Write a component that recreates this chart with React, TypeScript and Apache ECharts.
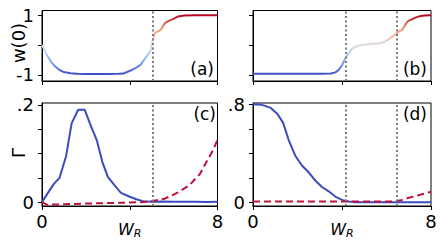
import React, { useEffect, useRef } from "react";
import * as echarts from "echarts";

// Panel (a): w(0) vs W
const xA = [0, 0.2, 0.4, 0.6, 0.8, 1.0, 1.3, 1.6, 2.0, 2.5, 3.0, 3.5, 3.7, 3.9, 4.1, 4.3, 4.5, 4.7, 4.85, 4.95, 5.05, 5.15, 5.25, 5.35, 5.45, 5.55, 5.65, 5.8, 6.0, 6.2, 6.5, 7.0, 7.5, 8.0];
const yA = [0.0, -0.3, -0.55, -0.72, -0.84, -0.91, -0.95, -0.97, -0.975, -0.975, -0.975, -0.97, -0.96, -0.9, -0.84, -0.76, -0.66, -0.45, -0.3, -0.18, 0.2, 0.4, 0.45, 0.47, 0.55, 0.68, 0.76, 0.82, 0.88, 0.96, 0.99, 1.0, 1.0, 1.0];

// Panel (b)
const xB = [0, 1, 2, 3, 3.5, 3.7, 3.85, 4.0, 4.1, 4.2, 4.35, 4.5, 4.7, 4.9, 5.1, 5.3, 5.5, 5.7, 5.9, 6.1, 6.3, 6.5, 6.6, 6.7, 6.8, 6.9, 7.0, 7.1, 7.3, 7.5, 7.7, 8.0];
const yB = [-0.97, -0.97, -0.97, -0.97, -0.96, -0.92, -0.84, -0.68, -0.52, -0.38, -0.22, -0.1, -0.03, 0.0, 0.02, 0.04, 0.04, 0.06, 0.1, 0.2, 0.3, 0.42, 0.48, 0.5, 0.62, 0.75, 0.82, 0.85, 0.92, 0.97, 0.99, 1.0];

// Panel (c)
const xC1 = [0, 0.3, 0.55, 0.8, 1.1, 1.35, 1.65, 1.95, 2.2, 2.5, 2.75, 3.0, 3.3, 3.6, 4.0, 4.3, 4.6, 5.0, 5.5, 6.0, 6.5, 7.0, 7.5, 8.0];
const yC1 = [0, 0.021, 0.038, 0.05, 0.095, 0.162, 0.19, 0.19, 0.16, 0.127, 0.083, 0.052, 0.035, 0.019, 0.011, 0.006, 0.002, 0.001, 0.0015, 0.001, 0.001, 0.0005, 0.0, 0.001];
const xC2 = [0, 0.3, 0.5, 1, 2, 3, 4, 4.6, 5.0, 5.6, 6.2, 6.7, 7.2, 7.5, 7.8, 8.0];
const yC2 = [0, -0.007, -0.005, -0.0045, -0.003, -0.002, -0.001, 0.0, 0.002, 0.007, 0.02, 0.034, 0.058, 0.083, 0.107, 0.128];

// Panel (d)
const xD1 = [0, 0.4, 0.8, 1.1, 1.35, 1.6, 1.9, 2.2, 2.5, 2.8, 3.1, 3.4, 3.7, 4.0, 4.3, 4.6, 5, 6, 7, 8];
const yD1 = [0.8, 0.795, 0.77, 0.72, 0.65, 0.51, 0.38, 0.3, 0.245, 0.178, 0.125, 0.09, 0.047, 0.02, 0.006, 0.001, 0, 0, 0, 0];
const xD2 = [0, 2, 4, 6, 6.4, 6.7, 7.05, 7.3, 7.6, 8.0];
const yD2 = [0.006, 0.006, 0.006, 0.006, 0.007, 0.02, 0.04, 0.05, 0.066, 0.086];

const vLinesA = [5.05];
const vLinesB = [4.18, 6.47];

const xTicks = [0, 4, 8];
const xTickLabels = ["0", "", "8"];
const yTicksTop = [-1, 0, 1];
const yLabelsTop = [-1, 1];
const yTicksC = [0, 0.05, 0.1, 0.15, 0.2];
const yLabelsC = [0, 0.2];
const yTicksD = [0, 0.2, 0.4, 0.6, 0.8];
const yLabelsD = [0, 0.8];

const coolwarm = ["#3b4cc0", "#6282ea", "#8db0fe", "#b8d0f9", "#dddddd", "#f5c4ad", "#f49a7b", "#de604d", "#b40426"];
const BLUE = "#3b4cc0";
const RED = "#c0103a";
const FONT = "DejaVu Sans";

const pairs = (xs: number[], ys: number[]) => xs.map((x, i) => [x, ys[i]]);

export default function App() {
  const ref = useRef<HTMLDivElement>(null);
  useEffect(() => {
    if (!ref.current) return;
    const chart = echarts.init(ref.current, null, { renderer: "svg" });
    const gridBase = { show: true, borderColor: "#000", borderWidth: 1, backgroundColor: "transparent", containLabel: false, outerBoundsMode: "none" };
    const grids = [
      { left: 42, top: 10.5, width: 175.5, height: 70.5 },
      { left: 253, top: 10.5, width: 178, height: 70.5 },
      { left: 42, top: 103, width: 175.5, height: 103 },
      { left: 253, top: 103, width: 178, height: 103 },
    ].map((g) => ({ ...gridBase, ...g }));

    const labelStyle = { fontSize: 18, color: "#000", fontFamily: FONT };
    const xAxes = [0, 1, 2, 3].map((i) => ({
      gridIndex: i,
      type: "value",
      min: 0,
      max: 8,
      interval: 4,
      axisLine: { show: true, onZero: false, lineStyle: { color: "#000", width: 1 } },
      axisTick: { show: true, inside: false, length: 4, lineStyle: { color: "#000", width: 1 } },
      splitLine: { show: false },
      axisLabel: {
        show: i >= 2,
        ...labelStyle,
        margin: 6,
        formatter: (v: number) => xTickLabels[xTicks.indexOf(v)] ?? "",
      },
      name: i >= 2 ? "{w|W}{r|R}" : "",
      nameLocation: "middle",
      nameGap: 14,
      nameMoveOverlap: false,
      nameTextStyle: {
        rich: {
          w: { fontSize: 16, fontStyle: "italic", fontFamily: FONT, color: "#000" },
          r: { fontSize: 11, fontStyle: "italic", fontFamily: FONT, color: "#000", padding: [8, 0, 0, 0] },
        },
      },
    }));

    const yAxisBase = (i: number, min: number, max: number, ticks: number[], labels: number[], showLabels: boolean, fmt: (v: number) => string) => ({
      gridIndex: i,
      type: "value",
      min,
      max,
      axisLine: { show: true, onZero: false, lineStyle: { color: "#000", width: 1 } },
      axisTick: { show: true, inside: false, length: 4, customValues: ticks, lineStyle: { color: "#000", width: 1 } },
      splitLine: { show: false },
      axisLabel: { show: showLabels, customValues: labels, ...labelStyle, margin: 8, formatter: fmt },
    });
    const yAxes = [
      yAxisBase(0, -1.21, 1.16, yTicksTop, yLabelsTop, true, (v) => (v > 0 ? "1" : "-1")),
      yAxisBase(1, -1.21, 1.16, yTicksTop, yLabelsTop, false, (v) => ""),
      yAxisBase(2, -0.008, 0.204, yTicksC, yLabelsC, true, (v) => (v > 0.1 ? ".2" : "0")),
      yAxisBase(3, -0.03, 0.81, yTicksD, yLabelsD, true, (v) => (v > 0.4 ? ".8" : "0")),
    ];

    const markLine = (vals: number[]) => ({
      silent: true,
      symbol: ["none", "none"],
      label: { show: false },
      lineStyle: { type: [2, 2.5], color: "#7a7a7a", width: 2 },
      data: vals.map((v) => ({ xAxis: v })),
    });

    const series = [
      { type: "line", xAxisIndex: 0, yAxisIndex: 0, data: pairs(xA, yA), showSymbol: false, lineStyle: { width: 2 }, markLine: markLine(vLinesA) },
      { type: "line", xAxisIndex: 1, yAxisIndex: 1, data: pairs(xB, yB), showSymbol: false, lineStyle: { width: 2 }, markLine: markLine(vLinesB) },
      { type: "line", xAxisIndex: 2, yAxisIndex: 2, data: pairs(xC1, yC1), showSymbol: false, lineStyle: { width: 2, color: BLUE }, itemStyle: { color: BLUE }, markLine: markLine(vLinesA) },
      { type: "line", xAxisIndex: 2, yAxisIndex: 2, data: pairs(xC2, yC2), showSymbol: false, lineStyle: { width: 2, color: RED, type: [7, 4] }, itemStyle: { color: RED } },
      { type: "line", xAxisIndex: 3, yAxisIndex: 3, data: pairs(xD1, yD1), showSymbol: false, lineStyle: { width: 2, color: BLUE }, itemStyle: { color: BLUE }, markLine: markLine(vLinesB) },
      { type: "line", xAxisIndex: 3, yAxisIndex: 3, data: pairs(xD2, yD2), showSymbol: false, lineStyle: { width: 2, color: RED, type: [7, 4] }, itemStyle: { color: RED } },
    ];

    const txt = (text: string, x: number, y: number, size: number, rot = 0, align = "right") => ({
      type: "text",
      x,
      y,
      rotation: rot,
      silent: true,
      style: { text, fontSize: size, fontFamily: FONT, fill: "#000", textAlign: align, textVerticalAlign: "middle" },
    });

    chart.setOption({
      animation: false,
      grid: grids,
      xAxis: xAxes,
      yAxis: yAxes,
      visualMap: [0, 1].map((si) => ({
        type: "continuous",
        show: false,
        seriesIndex: si,
        dimension: 1,
        min: -1,
        max: 1,
        inRange: { color: coolwarm },
      })),
      series,
      graphic: [
        txt("(a)", 214, 69, 17),
        txt("(b)", 427, 69, 17),
        txt("(c)", 216, 114, 17),
        txt("(d)", 427, 114, 17),
        txt("w(0)", 18, 43, 18, Math.PI / 2, "center"),
        txt("Γ", 18, 153, 18, Math.PI / 2, "center"),
      ],
    });
    return () => chart.dispose();
  }, []);
  return <div ref={ref} style={{ position: "absolute", left: 0, top: 0, width: 444, height: 244 }} />;
}
